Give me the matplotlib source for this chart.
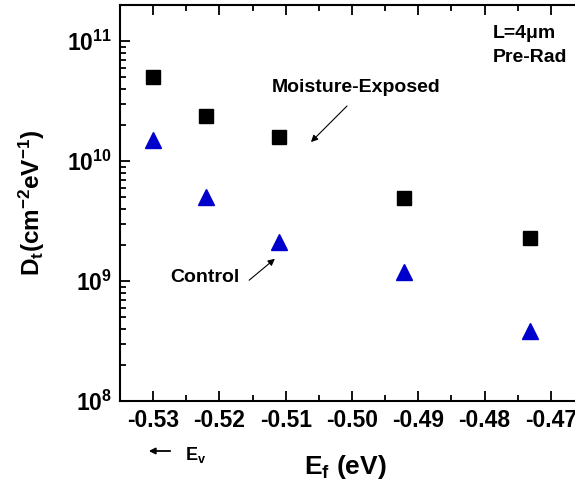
import numpy as np
import matplotlib
matplotlib.use('Agg')
import matplotlib.pyplot as plt
from matplotlib.ticker import LogLocator, MultipleLocator, FixedLocator

plt.rcParams['font.family'] = ['Liberation Sans', 'DejaVu Sans']
plt.rcParams['font.weight'] = 'bold'
plt.rcParams['mathtext.fontset'] = 'custom'
plt.rcParams['mathtext.rm'] = 'Liberation Sans:bold'
plt.rcParams['mathtext.bf'] = 'Liberation Sans:bold'
plt.rcParams['mathtext.default'] = 'bf'

# energy positions (eV)
ef_moist = [-0.5300, -0.5220, -0.5110, -0.4921, -0.4732]
dt_moist = [5.0e10, 2.36e10, 1.58e10, 4.9e9, 2.3e9]
ef_ctrl = [-0.5300, -0.5220, -0.5110, -0.4921, -0.4732]
dt_ctrl = [1.5e10, 5.0e9, 2.1e9, 1.2e9, 3.8e8]
xticks = [-0.53, -0.52, -0.51, -0.50, -0.49, -0.48, -0.47]
xticklabels = ['-0.53', '-0.52', '-0.51', '-0.50', '-0.49', '-0.48', '-0.47']

W, H = 575, 487
fig = plt.figure(figsize=(W / 100, H / 100), dpi=100)
ax = fig.add_axes([0.2087, 0.1766, 0.807, 0.8131])


def px(x, y):
    # pixel position (from top-left) -> figure fraction
    return (x / W, 1 - y / H)


ax.plot(ef_moist, dt_moist, 's', color='black', ms=10, mec='black')
ax.plot(ef_ctrl, dt_ctrl, '^', color='#0000cc', ms=12, mec='#0000cc')

ax.set_yscale('log')
ax.set_xlim(-0.535, -0.465)
ax.set_ylim(1e8, 2e11)
ax.xaxis.set_major_locator(FixedLocator(xticks))
ax.set_xticklabels(xticklabels)
ax.xaxis.set_minor_locator(MultipleLocator(0.005))
ax.yaxis.set_major_locator(LogLocator(base=10, numticks=10))
ax.yaxis.set_minor_locator(LogLocator(base=10, subs=np.arange(2, 10), numticks=20))

for s in ax.spines.values():
    s.set_linewidth(1.5)
ax.tick_params(which='both', direction='in', top=True, right=False, width=1.3)
ax.tick_params(which='major', length=7, labelsize=16.5, pad=6)
ax.tick_params(which='minor', length=4)
for lab in ax.get_xticklabels() + ax.get_yticklabels():
    lab.set_fontweight('bold')

xl = ax.set_xlabel(r'E$_\mathregular{f}$ (eV)', fontsize=19, fontweight='bold')
xl.set_verticalalignment('center')
ax.xaxis.set_label_coords((345 - 120) / 464, -(467 - 401) / 396)
yl = ax.set_ylabel(r'D$_\mathregular{t}$(cm$^\mathregular{-2}$eV$^\mathregular{-1}$)', fontsize=17.5,
                   fontweight='bold')
yl.set_verticalalignment('center')
ax.yaxis.set_label_coords(-(120 - 32) / 464, (401 - 203) / 396)

fig.text(*px(493, 33), 'L=4\u03bcm', fontsize=14, fontweight='bold', ha='left', va='center')
fig.text(*px(493, 57), 'Pre-Rad', fontsize=14, fontweight='bold', ha='left', va='center')

fig.text(*px(272, 88), 'Moisture-Exposed', fontsize=14, fontweight='bold', ha='left', va='center')
ax.annotate('', xy=px(309, 144), xytext=px(349, 104), xycoords='figure fraction',
            textcoords='figure fraction',
            arrowprops=dict(arrowstyle='-|>', color='black', lw=0.8, mutation_scale=10))

fig.text(*px(170, 278), 'Control', fontsize=14, fontweight='bold', ha='left', va='center')
ax.annotate('', xy=px(277, 257), xytext=px(247, 282), xycoords='figure fraction',
            textcoords='figure fraction',
            arrowprops=dict(arrowstyle='-|>', color='black', lw=0.8, mutation_scale=10))

# E_v arrow below axis
ax.annotate('', xy=px(146, 451), xytext=px(173, 451), xycoords='figure fraction',
            textcoords='figure fraction',
            arrowprops=dict(arrowstyle='-|>', color='black', lw=1.3, mutation_scale=9))
fig.text(*px(185, 455), r'E$_\mathregular{v}$', fontsize=13, fontweight='bold',
         ha='left', va='center')

fig.savefig('out.png', dpi=100)
